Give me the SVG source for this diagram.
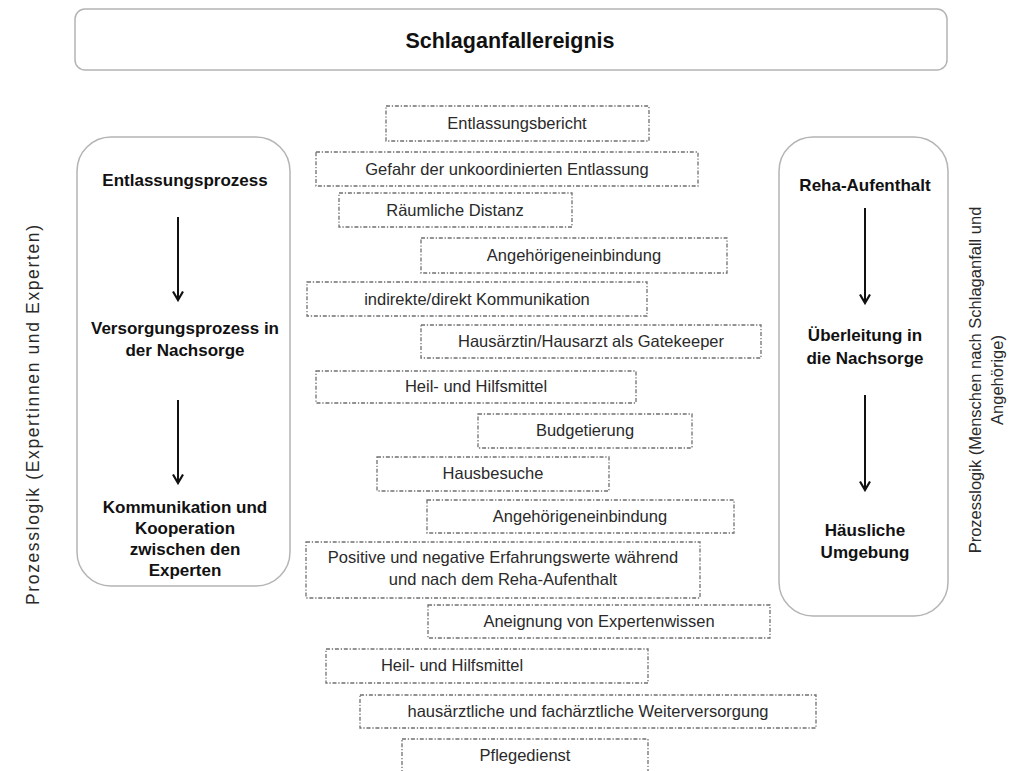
<svg xmlns="http://www.w3.org/2000/svg" width="1018" height="771" viewBox="0 0 1018 771">
<defs>
<style>
.frame{fill:#fff;stroke:#b4b4b4;stroke-width:1.5}
.dbox{fill:#fff;stroke:#707070;stroke-width:1.3;stroke-dasharray:4 1.8 1.3 1.8}
.t{font-family:"Liberation Sans",Arial,sans-serif;font-size:16.5px;fill:#2a2a2a;text-anchor:middle}
.s{font-family:"Liberation Sans",Arial,sans-serif;font-size:16.5px;fill:#2a2a2a;text-anchor:middle}
.b{font-family:"Liberation Sans",Arial,sans-serif;font-size:17px;font-weight:bold;fill:#111;text-anchor:middle}
.arr{stroke:#111;stroke-width:2;fill:none;marker-end:url(#ah)}
</style>
<marker id="ah" viewBox="0 0 12 12" refX="10.5" refY="6" markerWidth="12" markerHeight="12" orient="auto" markerUnits="userSpaceOnUse">
<path d="M2,1 L10.5,6 L2,11" fill="none" stroke="#111" stroke-width="2.2"/>
</marker>
</defs>
<rect width="1018" height="771" fill="#fff"/>

<g id="top">
<rect class="frame" x="75" y="9" width="872" height="61" rx="10"/>
<text class="b" x="510" y="48" style="font-size:21.5px">Schlaganfallereignis</text>
</g>

<g id="left-frame">
<rect class="frame" x="77" y="137" width="213" height="449" rx="34"/>
<text class="b" x="185" y="186">Entlassungsprozess</text>
<text class="b" x="185" y="334">Versorgungsprozess in</text>
<text class="b" x="185" y="356">der Nachsorge</text>
<text class="b" x="185" y="513">Kommunikation und</text>
<text class="b" x="185" y="534">Kooperation</text>
<text class="b" x="185" y="555">zwischen den</text>
<text class="b" x="185" y="576">Experten</text>
</g>

<g id="right-frame">
<rect class="frame" x="779" y="137" width="169" height="479" rx="34"/>
<text class="b" x="865" y="191">Reha-Aufenthalt</text>
<text class="b" x="865" y="341">Überleitung in</text>
<text class="b" x="865" y="364">die Nachsorge</text>
<text class="b" x="865" y="536">Häusliche</text>
<text class="b" x="865" y="558">Umgebung</text>
</g>

<g id="side-labels">
<text class="s" transform="translate(39,415) rotate(-90)" style="font-size:17.5px" textLength="380" lengthAdjust="spacing">Prozesslogik (Expertinnen und Experten)</text>
<text class="s" transform="translate(981,380) rotate(-90)">Prozesslogik (Menschen nach Schlaganfall und</text>
<text class="s" transform="translate(1003,380) rotate(-90)">Angehörige)</text>
</g>

<g id="connectors">
<line class="arr" x1="178" y1="217" x2="178" y2="300"/>
<line class="arr" x1="178" y1="400" x2="178" y2="483"/>
<line class="arr" x1="865" y1="208" x2="865" y2="303"/>
<line class="arr" x1="865" y1="395" x2="865" y2="490"/>
</g>

<g id="n1"><rect class="dbox" x="386" y="106" width="263" height="35"/><text class="t" x="517" y="129">Entlassungsbericht</text></g>
<g id="n2"><rect class="dbox" x="316" y="152" width="382" height="34"/><text class="t" x="507" y="175">Gefahr der unkoordinierten Entlassung</text></g>
<g id="n3"><rect class="dbox" x="339" y="193" width="233" height="34"/><text class="t" x="455" y="216">Räumliche Distanz</text></g>
<g id="n4"><rect class="dbox" x="421" y="238" width="306" height="35"/><text class="t" x="574" y="261">Angehörigeneinbindung</text></g>
<g id="n5"><rect class="dbox" x="307" y="282" width="340" height="34"/><text class="t" x="477" y="305">indirekte/direkt Kommunikation</text></g>
<g id="n6"><rect class="dbox" x="421" y="325" width="340" height="33"/><text class="t" x="591" y="347">Hausärztin/Hausarzt als Gatekeeper</text></g>
<g id="n7"><rect class="dbox" x="316" y="371" width="320" height="32"/><text class="t" x="476" y="392">Heil- und Hilfsmittel</text></g>
<g id="n8"><rect class="dbox" x="478" y="414" width="214" height="34"/><text class="t" x="585" y="436">Budgetierung</text></g>
<g id="n9"><rect class="dbox" x="377" y="457" width="232" height="34"/><text class="t" x="493" y="479">Hausbesuche</text></g>
<g id="n10"><rect class="dbox" x="427" y="500" width="307" height="33"/><text class="t" x="580" y="522">Angehörigeneinbindung</text></g>
<g id="n11"><rect class="dbox" x="306" y="542" width="394" height="56"/><text class="t" x="503" y="563">Positive und negative Erfahrungswerte während</text><text class="t" x="503" y="585">und nach dem Reha-Aufenthalt</text></g>
<g id="n12"><rect class="dbox" x="428" y="605" width="342" height="33"/><text class="t" x="599" y="627">Aneignung von Expertenwissen</text></g>
<g id="n13"><rect class="dbox" x="326" y="649" width="322" height="34"/><text class="t" x="452" y="671">Heil- und Hilfsmittel</text></g>
<g id="n14"><rect class="dbox" x="360" y="695" width="456" height="33"/><text class="t" x="588" y="717">hausärztliche und fachärztliche Weiterversorgung</text></g>
<g id="n15"><rect class="dbox" x="402" y="739" width="246" height="34"/><text class="t" x="525" y="761">Pflegedienst</text></g>
</svg>
